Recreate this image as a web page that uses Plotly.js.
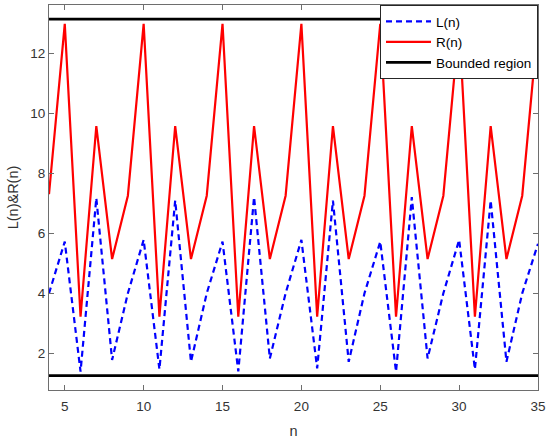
<!DOCTYPE html>
<html>
<head>
<meta charset="utf-8">
<script src="https://cdn.plot.ly/plotly-3.0.1.min.js"></script>
<style>html,body{margin:0;padding:0;background:#fff;}#chart{width:550px;height:440px;}</style>
</head>
<body>
<div id="chart"></div>
<script>
// Data
var n = [4,5,6,7,8,9,10,11,12,13,14,15,16,17,18,19,20,21,22,23,24,25,26,27,28,29,30,31,32,33,34,35];
var L = [4.0,5.72,1.39,7.17,1.78,4.0,5.78,1.47,7.09,1.72,
         4.0,5.72,1.40,7.20,1.83,4.0,5.78,1.50,7.09,1.72,
         4.0,5.72,1.39,7.20,1.83,4.0,5.78,1.47,7.09,1.72,
         4.0,5.65];
var R = [7.3,12.97,3.22,9.57,5.14,7.25,12.97,3.22,9.57,5.14,
         7.25,12.97,3.22,9.57,5.14,7.25,12.97,3.22,9.57,5.14,
         7.25,12.97,3.22,9.57,5.14,7.25,12.97,3.22,9.57,5.14,
         7.25,12.97];
var upperBound = 13.13;
var lowerBound = 1.26;
var nMin = 4, nMax = 35;
var xTicks = [5,10,15,20,25,30,35];
var yTicks = [2,4,6,8,10,12];

var font = 'Liberation Sans, Arial, sans-serif';
var traces = [
  {x: n, y: L, name: 'L(n)', type: 'scatter', mode: 'lines',
   line: {color: '#0000ff', width: 2.2, dash: '6px,4px'}},
  {x: n, y: R, name: 'R(n)', type: 'scatter', mode: 'lines',
   line: {color: '#ff0000', width: 2.2}},
  {x: [nMin, nMax, null, nMin, nMax], y: [upperBound, upperBound, null, lowerBound, lowerBound],
   name: 'Bounded region', type: 'scatter', mode: 'lines', connectgaps: false,
   line: {color: '#000000', width: 2.6}}
];
var axisCommon = {
  showgrid: false, zeroline: false, showline: true, linecolor: '#6e6e6e', linewidth: 1,
  mirror: 'ticks', ticks: 'inside', ticklen: 5, tickcolor: '#6e6e6e', tickwidth: 1,
  tickfont: {family: font, size: 13.5, color: '#333333'}
};
var layout = {
  width: 550, height: 440,
  margin: {l: 48.5, r: 12, t: 5, b: 50},
  paper_bgcolor: '#ffffff', plot_bgcolor: '#ffffff',
  showlegend: true,
  legend: {x: 1, y: 1, xanchor: 'right', yanchor: 'top', bgcolor: '#ffffff',
           bordercolor: '#262626', borderwidth: 1, itemwidth: 45,
           font: {family: font, size: 13.5, color: '#000000'},
           tracegroupgap: 0},
  xaxis: Object.assign({}, axisCommon, {range: [nMin, nMax], tickvals: xTicks, ticklabelstandoff: 4,
          title: {text: 'n', font: {family: font, size: 14.5, color: '#333333'}, standoff: 12}}),
  yaxis: Object.assign({}, axisCommon, {range: [0.78, 13.6], tickvals: yTicks,
          title: {text: 'L(n)&R(n)', font: {family: font, size: 14.5, color: '#333333'}, standoff: 8}})
};
Plotly.newPlot('chart', traces, layout, {displayModeBar: false, staticPlot: true});
</script>
</body>
</html>
